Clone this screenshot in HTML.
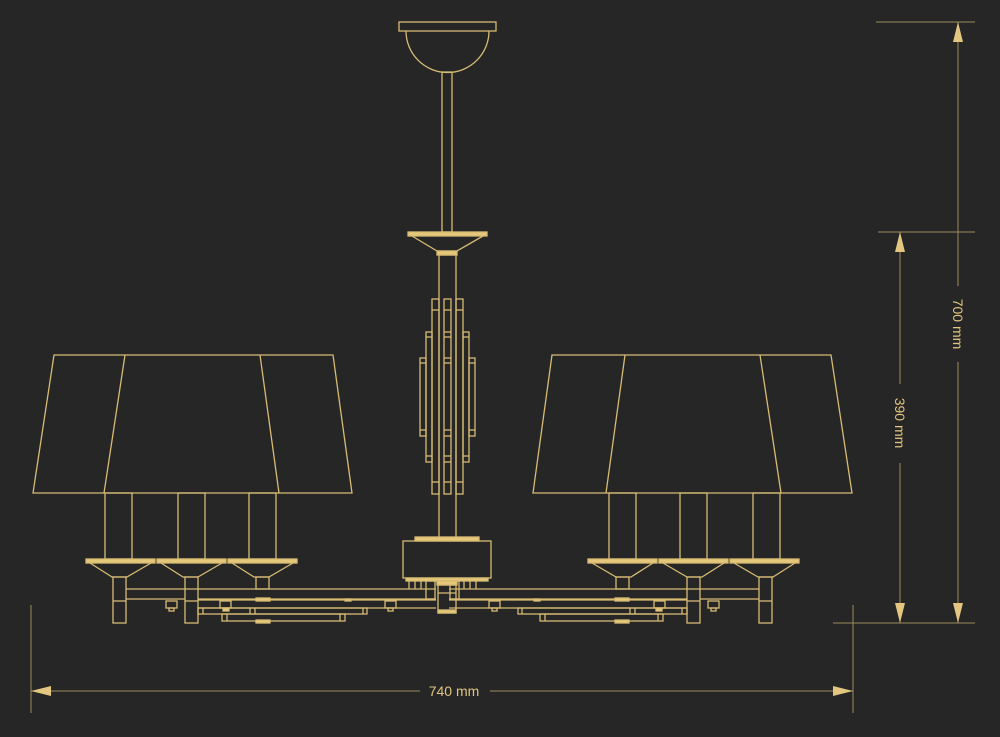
<!DOCTYPE html>
<html><head><meta charset="utf-8"><style>
html,body{margin:0;padding:0;background:#262626;}
svg{display:block}
text{font-family:"Liberation Sans",sans-serif;font-size:14px;fill:#e3c67f}
</style></head><body>
<svg width="1000" height="737" viewBox="0 0 1000 737" xmlns="http://www.w3.org/2000/svg">
<rect width="1000" height="737" fill="#262626"/>
<defs>
<g id="arm" fill="none" stroke="#d8bb74" stroke-width="1.3">
  <!-- shade -->
  <polygon points="54,355 333,355 352,493 33,493"/>
  <line x1="125" y1="355" x2="104" y2="493"/>
  <line x1="260" y1="355" x2="279" y2="493"/>
  <!-- candles -->
  <rect x="105" y="493" width="27" height="66"/>
  <rect x="178" y="493" width="27" height="66"/>
  <rect x="249" y="493" width="27" height="66"/>
  <!-- cups -->
  <rect x="86" y="559" width="69" height="4" fill="#e6c87a"/>
  <rect x="157" y="559" width="69" height="4" fill="#e6c87a"/>
  <rect x="228" y="559" width="69" height="4" fill="#e6c87a"/>
  <polyline points="90,563 112,577 127,577 151,563"/>
  <polyline points="161,563 183,577 198,577 222,563"/>
  <polyline points="232,563 254,577 269,577 293,563"/>
  <!-- stems -->
  <rect x="113" y="577" width="13" height="46"/>
  <line x1="113" y1="601" x2="126" y2="601"/>
  <rect x="185" y="577" width="13" height="46"/>
  <line x1="185" y1="601" x2="198" y2="601"/>
  <rect x="256" y="577" width="13" height="12"/>
  <!-- arm bars -->
  <polyline points="126,589 436,589"/>
  <polyline points="126,599 185,599"/>
  <polyline points="198,599 436,599"/>
  <polyline points="198,600 436,600"/>
  <polyline points="198,608 436,608"/>
  <rect x="198" y="608" width="169" height="6"/>
  <line x1="203" y1="608" x2="203" y2="614"/>
  <line x1="250" y1="608" x2="250" y2="614"/>
  <line x1="255" y1="608" x2="255" y2="614"/>
  <line x1="363" y1="608" x2="363" y2="614"/>
  <rect x="222" y="614" width="123" height="7"/>
  <line x1="227" y1="614" x2="227" y2="621"/>
  <line x1="340" y1="614" x2="340" y2="621"/>
  <rect x="166" y="601" width="11" height="7"/>
  <rect x="169" y="608" width="5" height="3"/>
  <rect x="220" y="601" width="11" height="7"/>
  <rect x="385" y="601" width="11" height="7"/>
  <rect x="388" y="608" width="5" height="3"/>
  <rect x="256" y="598" width="14" height="3" fill="#e6c87a"/>
  <rect x="223" y="608" width="6" height="3" fill="#e6c87a"/>
  <rect x="256" y="620" width="14" height="3" fill="#e6c87a"/>
  <rect x="345" y="599" width="6" height="2" fill="#e6c87a"/>
  <rect x="426" y="581" width="9" height="18"/>
  <line x1="409" y1="581" x2="409" y2="589"/>
  <line x1="415" y1="581" x2="415" y2="589"/>
  <line x1="421" y1="581" x2="421" y2="589"/>
</g>
</defs>
<use href="#arm"/>
<use href="#arm" transform="translate(885,0) scale(-1,1)"/>
<g fill="none" stroke="#d8bb74" stroke-width="1.3">
  <!-- canopy -->
  <rect x="399" y="22" width="97" height="9"/>
  <path d="M406,31 A41.5,41.5 0 0 0 489,31"/>
  <rect x="442" y="72" width="10" height="160"/>
  <rect x="408" y="232" width="79" height="4" fill="#e6c87a"/>
  <polyline points="412,236 437,251 457,251 483,236"/>
  <rect x="437" y="251" width="20" height="4" fill="#e6c87a"/>
  <rect x="439" y="255" width="17" height="285"/>
  <!-- decorative bars -->
  <rect x="432" y="299" width="7" height="195"/>
  <rect x="444" y="299" width="7" height="195"/>
  <rect x="456" y="299" width="7" height="195"/>
  <rect x="426" y="332" width="6" height="130"/>
  <rect x="463" y="332" width="6" height="130"/>
  <rect x="420" y="358" width="6" height="78"/>
  <rect x="469" y="358" width="6" height="78"/>
  <line x1="432" y1="310" x2="439" y2="310"/><line x1="444" y1="310" x2="451" y2="310"/><line x1="456" y1="310" x2="463" y2="310"/>
  <line x1="426" y1="337" x2="432" y2="337"/><line x1="463" y1="337" x2="469" y2="337"/>
  <line x1="444" y1="332" x2="451" y2="332"/><line x1="444" y1="337" x2="451" y2="337"/>
  <line x1="420" y1="363" x2="426" y2="363"/><line x1="469" y1="363" x2="475" y2="363"/>
  <line x1="444" y1="358" x2="451" y2="358"/><line x1="444" y1="363" x2="451" y2="363"/>
  <line x1="420" y1="430" x2="426" y2="430"/><line x1="469" y1="430" x2="475" y2="430"/>
  <line x1="444" y1="430" x2="451" y2="430"/><line x1="444" y1="436" x2="451" y2="436"/>
  <line x1="426" y1="456" x2="432" y2="456"/><line x1="463" y1="456" x2="469" y2="456"/>
  <line x1="444" y1="456" x2="451" y2="456"/><line x1="444" y1="462" x2="451" y2="462"/>
  <line x1="432" y1="482" x2="439" y2="482"/><line x1="444" y1="482" x2="451" y2="482"/><line x1="456" y1="482" x2="463" y2="482"/>
  <!-- central box -->
  <rect x="415" y="537" width="64" height="4" fill="#e6c87a"/>
  <rect x="403" y="541" width="88" height="37"/>
  <rect x="406" y="578" width="82" height="3" fill="#e6c87a"/>
  <rect x="437" y="581" width="20" height="4" fill="#e6c87a"/>
  <rect x="438" y="585" width="18" height="28"/>
  <line x1="438" y1="593" x2="456" y2="593"/>
  <rect x="438" y="610" width="18" height="3" fill="#e6c87a"/>
</g>
<!-- dimensions -->
<g stroke="#9c8a5e" stroke-width="1" fill="none">
  <line x1="876" y1="22" x2="975" y2="22"/>
  <line x1="878" y1="232" x2="975" y2="232"/>
  <line x1="833" y1="623" x2="975" y2="623"/>
  <line x1="958" y1="22" x2="958" y2="286"/>
  <line x1="958" y1="362" x2="958" y2="623"/>
  <line x1="900" y1="232" x2="900" y2="384"/>
  <line x1="900" y1="463" x2="900" y2="623"/>
  <line x1="31" y1="605" x2="31" y2="713"/>
  <line x1="853" y1="605" x2="853" y2="713"/>
  <line x1="31" y1="691" x2="420" y2="691"/>
  <line x1="490" y1="691" x2="853" y2="691"/>
</g>
<g fill="#e3c67f">
  <polygon points="958,22 953,42 963,42"/>
  <polygon points="958,623 953,603 963,603"/>
  <polygon points="900,232 895,252 905,252"/>
  <polygon points="900,623 895,603 905,603"/>
  <polygon points="31,691 51,686 51,696"/>
  <polygon points="853,691 833,686 833,696"/>
</g>
<text x="454" y="696" text-anchor="middle">740 mm</text>
<text transform="translate(953,324) rotate(90)" text-anchor="middle">700 mm</text>
<text transform="translate(895,423) rotate(90)" text-anchor="middle">390 mm</text>
</svg>
</body></html>
